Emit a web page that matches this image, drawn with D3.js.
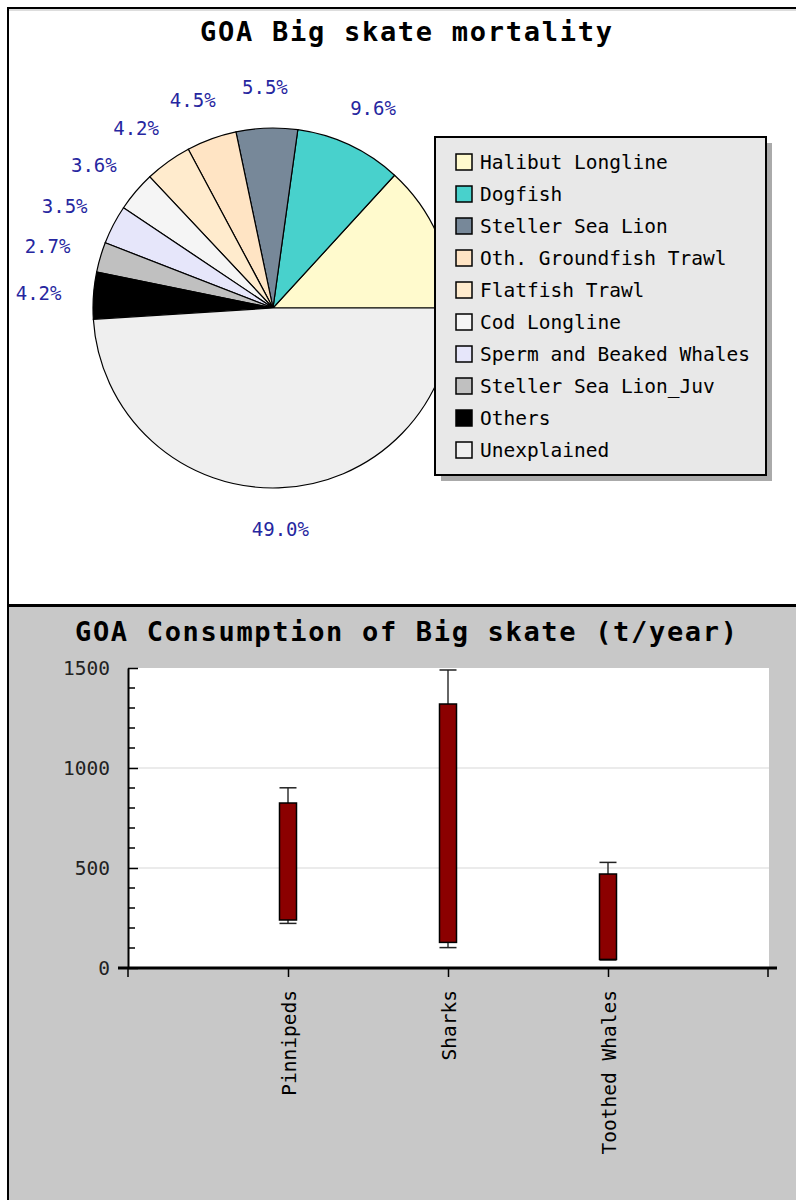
<!DOCTYPE html>
<html>
<head>
<meta charset="utf-8">
<script src="https://cdn.jsdelivr.net/npm/d3@7"></script>
<style>
  body { margin: 0; background: #fff; }
  text { font-family: "DejaVu Sans Mono", monospace; }
</style>
</head>
<body>
<div id="chart"></div>
<script>
// pie: sources of mortality (percent)
const pieNames = ["Halibut Longline", "Dogfish", "Steller Sea Lion", "Oth. Groundfish Trawl",
    "Flatfish Trawl", "Cod Longline", "Sperm and Beaked Whales", "Steller Sea Lion_Juv",
    "Others", "Unexplained"];
const pieValues = [13.2, 9.6, 5.5, 4.5, 4.2, 3.6, 3.5, 2.7, 4.2, 49.0];
const pieColors = ["#fffacd", "#48d1cc", "#778899", "#ffe4c4", "#ffebcd", "#f5f5f5",
    "#e6e6fa", "#c0c0c0", "#000000", "#efefef"];

// consumption by predator group (t/year)
const predators = ["Pinnipeds", "Sharks", "Toothed Whales"];
const boxLow = [240, 128, 43];
const boxHigh = [825, 1320, 470];
const whiskerLow = [223, 102, 40];
const whiskerHigh = [901, 1490, 528];
const yTicks = [0, 500, 1000, 1500];

const W = 796, H = 1200;

const svg = d3.select("#chart")
    .append("svg")
    .attr("width", W)
    .attr("height", H);

// ---------- frames ----------
svg.append("rect").attr("x", 0).attr("y", 0).attr("width", W).attr("height", H).attr("fill", "#fff");
svg.append("rect").attr("x", 9).attr("y", 607).attr("width", W - 9).attr("height", H - 607).attr("fill", "#c8c8c8");
svg.append("line").attr("x1", 8).attr("x2", 8).attr("y1", 7).attr("y2", H)
    .attr("stroke", "#000").attr("stroke-width", 2);
svg.append("line").attr("x1", 7).attr("x2", W).attr("y1", 8).attr("y2", 8)
    .attr("stroke", "#000").attr("stroke-width", 2);
svg.append("line").attr("x1", 9).attr("x2", W).attr("y1", 10).attr("y2", 10)
    .attr("stroke", "#bbb").attr("stroke-width", 1);
svg.append("line").attr("x1", 8).attr("x2", W).attr("y1", 605.5).attr("y2", 605.5)
    .attr("stroke", "#000").attr("stroke-width", 3);

// ---------- pie chart ----------
svg.append("text")
    .attr("x", 406).attr("y", 41)
    .attr("text-anchor", "middle")
    .attr("font-size", 27).attr("font-weight", "bold")
    .attr("textLength", 412).attr("lengthAdjust", "spacing")
    .text("GOA Big skate mortality");

const cx = 273, cy = 308, radius = 180;

const pie = d3.pie()
    .sort(null)
    .startAngle(Math.PI / 2)
    .endAngle(Math.PI / 2 - 2 * Math.PI);

const arcs = pie(pieValues);
const arc = d3.arc().innerRadius(0).outerRadius(radius);

const pieG = svg.append("g").attr("transform", `translate(${cx},${cy})`);

pieG.selectAll("path")
    .data(arcs)
    .enter()
    .append("path")
    .attr("d", arc)
    .attr("fill", (d, i) => pieColors[i])
    .attr("stroke", "#000")
    .attr("stroke-width", 1.2);

// legend box sits over the first slice's label, so that one is not shown
const lx = 435, ly = 137, lw = 331, lh = 338;
const labelR = 221;
const labelPos = d => {
    const a = (d.startAngle + d.endAngle) / 2;
    return [labelR * Math.sin(a) + 14 * Math.sin(a), -labelR * Math.cos(a) + 7];
};
const visibleArcs = arcs.filter(d => {
    const [px, py] = labelPos(d);
    return !(cx + px > lx - 25 && cy + py > ly && cy + py < ly + lh);
});

pieG.selectAll("text.pct")
    .data(visibleArcs)
    .enter()
    .append("text")
    .attr("class", "pct")
    .attr("x", d => labelPos(d)[0])
    .attr("y", d => labelPos(d)[1])
    .attr("text-anchor", "middle")
    .attr("font-size", 19)
    .attr("fill", "#2626a0")
    .text(d => d.data.toFixed(1) + "%");

// legend
const lg = svg.append("g");
lg.append("rect").attr("x", lx + 6).attr("y", ly + 6).attr("width", lw).attr("height", lh).attr("fill", "#aaa");
lg.append("rect").attr("x", lx).attr("y", ly).attr("width", lw).attr("height", lh)
    .attr("fill", "#e8e8e8").attr("stroke", "#000").attr("stroke-width", 2);

const rows = lg.selectAll("g.row")
    .data(pieNames)
    .enter()
    .append("g")
    .attr("class", "row")
    .attr("transform", (d, i) => `translate(0,${162 + i * 32})`);

rows.append("rect")
    .attr("x", 456).attr("y", -8)
    .attr("width", 16).attr("height", 16)
    .attr("fill", (d, i) => pieColors[i])
    .attr("stroke", "#000").attr("stroke-width", 1.5);

rows.append("text")
    .attr("x", 480).attr("y", 7)
    .attr("font-size", 19.5)
    .attr("fill", "#000")
    .text(d => d);

// ---------- consumption chart ----------
svg.append("text")
    .attr("x", 406).attr("y", 641)
    .attr("text-anchor", "middle")
    .attr("font-size", 27).attr("font-weight", "bold")
    .attr("textLength", 662).attr("lengthAdjust", "spacing")
    .text("GOA Consumption of Big skate (t/year)");

const plot = { left: 128, right: 768, top: 668, bottom: 968 };

svg.append("rect")
    .attr("x", plot.left).attr("y", plot.top)
    .attr("width", 641).attr("height", plot.bottom - plot.top)
    .attr("fill", "#fff");

const x = d3.scalePoint()
    .domain(predators)
    .range([plot.left, plot.right])
    .padding(1);

const y = d3.scaleLinear()
    .domain([0, 1500])
    .range([plot.bottom, plot.top]);

// grid
svg.append("g")
    .selectAll("line")
    .data([500, 1000])
    .enter()
    .append("line")
    .attr("x1", plot.left).attr("x2", 769)
    .attr("y1", d => y(d)).attr("y2", d => y(d))
    .attr("stroke", "#e4e4e4").attr("stroke-width", 1.5);

// minor ticks
svg.append("g")
    .selectAll("line")
    .data(d3.range(100, 1500, 100).filter(v => v % 500 !== 0))
    .enter()
    .append("line")
    .attr("x1", plot.left).attr("x2", plot.left + 7)
    .attr("y1", d => y(d)).attr("y2", d => y(d))
    .attr("stroke", "#000").attr("stroke-width", 1.5);

const yAxis = svg.append("g")
    .attr("transform", `translate(${plot.left},0)`)
    .call(d3.axisLeft(y).tickValues(yTicks).tickFormat(d3.format("d"))
        .tickSize(-10).tickPadding(18).tickSizeOuter(0));
yAxis.select(".domain").attr("stroke-width", 2);
yAxis.selectAll(".tick line").attr("stroke-width", 1.5);
yAxis.selectAll("text")
    .attr("font-family", "DejaVu Sans Mono, monospace")
    .attr("font-size", 19.5)
    .attr("fill", "#222");

const xAxis = svg.append("g")
    .attr("transform", `translate(0,${plot.bottom})`)
    .call(d3.axisBottom(x).tickSize(9).tickSizeOuter(9));
xAxis.select(".domain").remove();
xAxis.selectAll(".tick line").attr("stroke-width", 1.5);
xAxis.selectAll("text")
    .attr("font-family", "DejaVu Sans Mono, monospace")
    .attr("font-size", 19.5)
    .attr("fill", "#000")
    .attr("transform", "rotate(-90)")
    .attr("text-anchor", "end")
    .attr("x", -22)
    .attr("y", 7)
    .attr("dy", null);
svg.append("line")
    .attr("x1", 118).attr("x2", 777)
    .attr("y1", plot.bottom).attr("y2", plot.bottom)
    .attr("stroke", "#000").attr("stroke-width", 3);
// outer ticks at the ends of the axis
svg.append("g")
    .selectAll("line")
    .data(x.range())
    .enter()
    .append("line")
    .attr("x1", d => d).attr("x2", d => d)
    .attr("y1", plot.bottom).attr("y2", plot.bottom + 9)
    .attr("stroke", "#000").attr("stroke-width", 1.5);

// whiskers and boxes
const bw = 17;
const boxes = svg.append("g")
    .selectAll("g")
    .data(predators)
    .enter()
    .append("g");

boxes.append("line")
    .attr("x1", d => x(d)).attr("x2", d => x(d))
    .attr("y1", (d, i) => y(whiskerHigh[i])).attr("y2", (d, i) => y(whiskerLow[i]))
    .attr("stroke", "#333").attr("stroke-width", 1.5);

boxes.append("line")
    .attr("x1", d => x(d) - bw / 2).attr("x2", d => x(d) + bw / 2)
    .attr("y1", (d, i) => y(whiskerHigh[i])).attr("y2", (d, i) => y(whiskerHigh[i]))
    .attr("stroke", "#222").attr("stroke-width", 1.5);

boxes.append("line")
    .attr("x1", d => x(d) - bw / 2).attr("x2", d => x(d) + bw / 2)
    .attr("y1", (d, i) => y(whiskerLow[i])).attr("y2", (d, i) => y(whiskerLow[i]))
    .attr("stroke", "#222").attr("stroke-width", 1.5);

boxes.append("rect")
    .attr("x", d => x(d) - bw / 2)
    .attr("y", (d, i) => y(boxHigh[i]))
    .attr("width", bw)
    .attr("height", (d, i) => y(boxLow[i]) - y(boxHigh[i]))
    .attr("fill", "#8b0000")
    .attr("stroke", "#000").attr("stroke-width", 1.5);
</script>
</body>
</html>
